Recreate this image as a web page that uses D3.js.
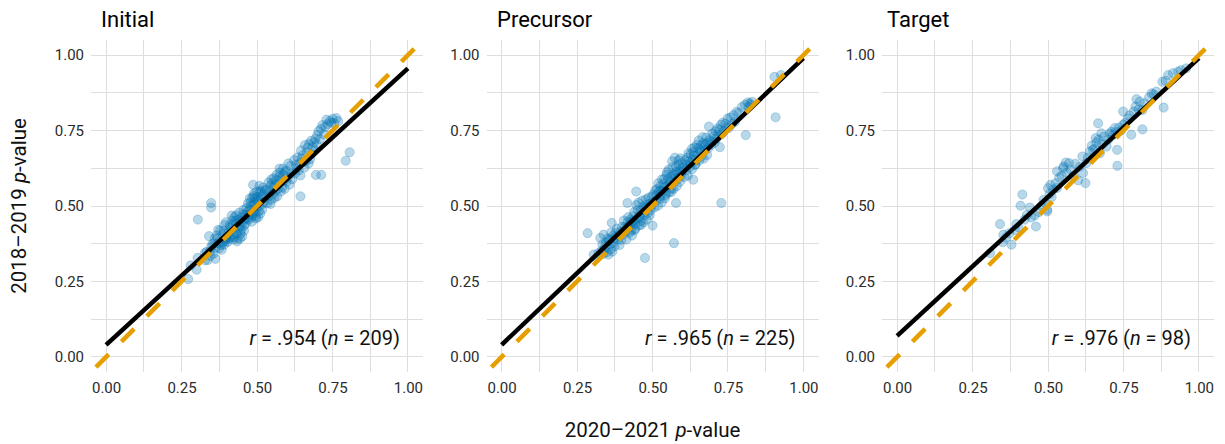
<!DOCTYPE html>
<html>
<head>
<meta charset="utf-8">
<script src="https://cdn.jsdelivr.net/npm/d3@7"></script>
<style>
  html, body { margin: 0; padding: 0; background: #fff; }
  svg { display: block; font-family: Roboto, "Liberation Sans", Arial, sans-serif; }
</style>
</head>
<body>
<svg id="chart" width="1225" height="444"></svg>
<script>
// ---------------- DATA ----------------
const panelTitles = ["Initial", "Precursor", "Target"];
const corrR = [".954", ".965", ".976"];
const corrN = ["209", "225", "98"];
const fitIntercept = [0.04, 0.04, 0.07];
const fitSlope = [0.916, 0.95, 0.92];
const tickValues = [0, 0.25, 0.5, 0.75, 1];
const tickLabels = ["0.00", "0.25", "0.50", "0.75", "1.00"];
const minorTicks = [0.125, 0.375, 0.625, 0.875];
const xAxisTitle = ["2020\u20132021 ", "p", "-value"];
const yAxisTitle = ["2018\u20132019 ", "p", "-value"];

const initialPoints = [
  [0.272,0.258],[0.280,0.303],[0.300,0.289],[0.303,0.328],[0.304,0.455],[0.328,0.320],[0.348,0.510],[0.348,0.495],
  [0.487,0.570],[0.807,0.678],[0.794,0.650],[0.695,0.603],[0.713,0.603],[0.644,0.532],
  [0.352,0.374],[0.337,0.321],[0.371,0.421],[0.344,0.349],[0.389,0.418],[0.362,0.325],[0.333,0.348],[0.378,0.419],
  [0.395,0.383],[0.358,0.376],[0.383,0.355],[0.366,0.402],[0.399,0.394],[0.341,0.400],[0.375,0.360],[0.392,0.437],
  [0.356,0.342],[0.386,0.379],[0.369,0.393],[0.348,0.364],[0.397,0.446],[0.381,0.371],[0.363,0.361],[0.394,0.389],
  [0.373,0.377],[0.387,0.406],[0.346,0.335],[0.360,0.392],[0.391,0.372],[0.327,0.344],
  [0.403,0.381],[0.418,0.452],[0.409,0.428],[0.436,0.392],[0.425,0.463],[0.412,0.397],[0.447,0.421],[0.430,0.441],
  [0.405,0.412],[0.441,0.478],[0.421,0.389],[0.452,0.446],[0.416,0.468],[0.433,0.410],[0.458,0.435],[0.427,0.424],
  [0.444,0.392],[0.410,0.437],[0.455,0.487],[0.438,0.455],[0.401,0.398],[0.423,0.405],[0.449,0.462],[0.414,0.418],
  [0.434,0.383],[0.457,0.418],[0.428,0.451],[0.445,0.431],[0.407,0.392],[0.439,0.426],[0.419,0.437],[0.451,0.399],
  [0.431,0.469],[0.460,0.455],[0.443,0.448],[0.424,0.396],[0.454,0.472],[0.446,0.410],
  [0.463,0.442],[0.478,0.512],[0.469,0.481],[0.495,0.466],[0.484,0.527],[0.472,0.455],[0.507,0.498],[0.490,0.541],
  [0.465,0.493],[0.501,0.519],[0.481,0.462],[0.512,0.551],[0.476,0.489],[0.493,0.478],[0.518,0.507],[0.487,0.503],
  [0.504,0.463],[0.470,0.509],[0.515,0.532],[0.498,0.495],[0.461,0.470],[0.483,0.448],[0.509,0.547],[0.474,0.472],
  [0.494,0.526],[0.517,0.488],[0.488,0.482],[0.505,0.514],[0.467,0.459],[0.499,0.548],[0.479,0.500],[0.511,0.475],
  [0.491,0.510],[0.520,0.561],[0.503,0.530],[0.484,0.469],[0.514,0.522],[0.506,0.483],[0.522,0.540],[0.497,0.459],
  [0.525,0.513],[0.476,0.525],[0.508,0.567],[0.527,0.552],[0.489,0.533],
  [0.532,0.553],[0.547,0.521],[0.538,0.578],[0.561,0.549],[0.543,0.566],[0.556,0.592],[0.534,0.509],[0.571,0.574],
  [0.552,0.538],[0.565,0.604],[0.541,0.546],[0.583,0.561],[0.559,0.570],[0.576,0.611],[0.548,0.589],[0.589,0.583],
  [0.567,0.532],[0.596,0.617],[0.537,0.533],[0.579,0.548],[0.554,0.561],[0.602,0.596],[0.573,0.596],[0.586,0.624],
  [0.545,0.507],[0.608,0.571],[0.563,0.585],[0.592,0.557],[0.581,0.591],[0.611,0.633],[0.550,0.575],[0.598,0.580],
  [0.569,0.556],[0.614,0.609],[0.587,0.605],[0.604,0.641],[0.558,0.527],[0.617,0.589],[0.593,0.612],[0.575,0.624],
  [0.623,0.652],[0.638,0.618],[0.629,0.637],[0.651,0.668],[0.644,0.601],[0.662,0.649],[0.634,0.661],[0.672,0.705],
  [0.657,0.627],[0.681,0.672],[0.646,0.684],[0.667,0.693],[0.626,0.608],[0.689,0.711],[0.654,0.646],[0.676,0.655],
  [0.641,0.640],[0.693,0.722],[0.664,0.677],[0.685,0.695],[0.631,0.625],[0.698,0.704],[0.659,0.702],[0.679,0.716],
  [0.648,0.657],[0.671,0.641],[0.691,0.683],[0.700,0.735],
  [0.704,0.748],[0.708,0.722],[0.712,0.756],[0.717,0.768],[0.722,0.737],[0.726,0.762],[0.730,0.786],[0.734,0.771],
  [0.741,0.782],[0.746,0.776],[0.751,0.789],[0.756,0.774],[0.763,0.791],[0.769,0.781]
];

const precursorPoints = [
  [0.285,0.410],[0.305,0.339],[0.321,0.344],[0.316,0.328],[0.475,0.328],[0.571,0.377],[0.446,0.548],[0.417,0.510],
  [0.578,0.510],[0.500,0.435],[0.908,0.794],[0.728,0.510],[0.904,0.928],[0.926,0.934],[0.635,0.587],[0.809,0.735],
  [0.327,0.394],[0.338,0.405],[0.354,0.339],[0.365,0.444],
  [0.331,0.352],[0.346,0.379],[0.337,0.341],[0.359,0.391],[0.343,0.366],[0.371,0.378],[0.334,0.373],[0.362,0.357],
  [0.378,0.412],[0.349,0.347],[0.385,0.389],[0.356,0.384],[0.369,0.401],[0.391,0.371],[0.340,0.355],[0.374,0.366],
  [0.382,0.425],[0.360,0.373],[0.394,0.414],[0.367,0.349],[0.388,0.403],[0.351,0.392],[0.397,0.388],[0.376,0.395],
  [0.363,0.412],[0.399,0.431],
  [0.402,0.405],[0.417,0.447],[0.408,0.431],[0.429,0.418],[0.413,0.389],[0.436,0.466],[0.421,0.432],[0.444,0.441],
  [0.405,0.452],[0.432,0.402],[0.451,0.487],[0.426,0.455],[0.441,0.420],[0.458,0.470],[0.411,0.416],[0.447,0.503],
  [0.434,0.437],[0.463,0.451],[0.419,0.463],[0.455,0.436],[0.439,0.480],[0.468,0.497],[0.424,0.411],[0.473,0.469],
  [0.449,0.458],[0.478,0.522],[0.431,0.449],[0.461,0.485],[0.484,0.476],[0.415,0.429],[0.470,0.446],[0.453,0.511],
  [0.489,0.507],[0.443,0.425],[0.476,0.492],[0.494,0.486],[0.466,0.518],[0.481,0.455],[0.498,0.531],[0.457,0.462],
  [0.487,0.528],[0.472,0.480],[0.496,0.499],[0.438,0.452],[0.483,0.496],[0.462,0.437],[0.491,0.470],[0.427,0.440],
  [0.479,0.505],[0.499,0.512],
  [0.503,0.538],[0.518,0.501],[0.509,0.552],[0.527,0.533],[0.512,0.519],[0.536,0.574],[0.521,0.548],[0.544,0.541],
  [0.506,0.495],[0.531,0.512],[0.551,0.589],[0.526,0.566],[0.541,0.526],[0.558,0.571],[0.514,0.537],[0.547,0.603],
  [0.534,0.549],[0.563,0.558],[0.519,0.575],[0.555,0.546],[0.539,0.590],[0.568,0.606],[0.524,0.523],[0.573,0.582],
  [0.549,0.567],[0.578,0.631],[0.531,0.588],[0.561,0.597],[0.584,0.589],[0.515,0.556],[0.570,0.557],[0.553,0.620],
  [0.589,0.617],[0.543,0.535],[0.576,0.603],[0.594,0.600],[0.566,0.629],[0.581,0.566],[0.598,0.642],[0.557,0.581],
  [0.587,0.637],[0.572,0.592],[0.596,0.611],[0.538,0.560],[0.583,0.608],[0.562,0.546],[0.591,0.580],[0.527,0.551],
  [0.579,0.614],[0.599,0.625],[0.565,0.648],[0.592,0.658],[0.548,0.612],[0.574,0.660],[0.586,0.651],
  [0.602,0.628],[0.617,0.601],[0.608,0.652],[0.627,0.643],[0.612,0.619],[0.636,0.679],[0.621,0.648],[0.644,0.651],
  [0.606,0.596],[0.631,0.622],[0.651,0.692],[0.626,0.672],[0.641,0.636],[0.658,0.679],[0.614,0.637],[0.647,0.703],
  [0.634,0.655],[0.663,0.664],[0.619,0.675],[0.655,0.651],[0.639,0.694],[0.668,0.708],[0.624,0.629],[0.673,0.685],
  [0.649,0.668],[0.678,0.727],[0.631,0.690],[0.661,0.701],[0.684,0.691],[0.615,0.660],[0.670,0.657],[0.653,0.717],
  [0.689,0.718],[0.643,0.638],[0.676,0.705],[0.694,0.702],[0.666,0.728],[0.681,0.669],[0.698,0.740],[0.657,0.685],
  [0.687,0.763],[0.672,0.694],[0.696,0.713],[0.638,0.667],[0.683,0.710],
  [0.702,0.731],[0.706,0.710],[0.709,0.748],[0.712,0.724],[0.715,0.757],[0.718,0.735],[0.721,0.752],[0.723,0.695],
  [0.727,0.769],[0.730,0.739],[0.733,0.776],[0.737,0.748],[0.741,0.772],[0.745,0.761],[0.749,0.790],[0.753,0.759],
  [0.758,0.793],[0.763,0.772],[0.768,0.801],[0.773,0.779],[0.779,0.812],[0.786,0.809],[0.796,0.828],[0.806,0.835],
  [0.815,0.843],[0.822,0.840],[0.830,0.845],[0.826,0.835],[0.818,0.828]
];

const targetPoints = [
  [0.308,0.344],[0.341,0.440],[0.352,0.405],[0.379,0.372],[0.350,0.380],[0.390,0.421],[0.409,0.501],[0.415,0.538],
  [0.440,0.495],[0.460,0.432],[0.456,0.469],[0.423,0.455],[0.497,0.488],[0.500,0.559],[0.508,0.570],[0.537,0.594],
  [0.552,0.631],[0.559,0.644],[0.570,0.642],[0.550,0.625],[0.600,0.585],[0.624,0.576],[0.616,0.609],[0.614,0.664],
  [0.627,0.642],[0.649,0.686],[0.658,0.725],[0.666,0.774],[0.677,0.741],[0.672,0.675],[0.694,0.697],[0.710,0.746],
  [0.721,0.758],[0.729,0.686],[0.730,0.633],[0.749,0.813],[0.749,0.769],[0.776,0.736],[0.784,0.813],[0.793,0.854],
  [0.804,0.846],[0.813,0.754],[0.813,0.818],[0.843,0.873],[0.859,0.879],[0.883,0.826],[0.879,0.912],[0.898,0.934],
  [0.914,0.940],[0.931,0.945],[0.958,0.956],[0.530,0.615],[0.498,0.482],
  [0.360,0.395],[0.372,0.410],[0.395,0.440],[0.402,0.430],[0.430,0.470],[0.445,0.462],[0.470,0.480],[0.478,0.500],
  [0.485,0.520],[0.490,0.510],[0.505,0.540],[0.512,0.530],[0.518,0.555],[0.525,0.575],[0.530,0.560],[0.545,0.600],
  [0.562,0.610],[0.575,0.620],[0.585,0.600],[0.590,0.640],[0.605,0.630],[0.632,0.660],[0.638,0.680],[0.645,0.700],
  [0.655,0.690],[0.660,0.710],[0.668,0.720],[0.680,0.705],[0.685,0.730],[0.700,0.720],[0.705,0.740],[0.715,0.735],
  [0.725,0.745],[0.735,0.760],[0.742,0.750],[0.755,0.775],[0.765,0.790],[0.770,0.800],[0.790,0.830],[0.800,0.820],
  [0.820,0.840],[0.835,0.860],[0.850,0.870],[0.890,0.915],[0.940,0.950]
];

const panelPoints = [initialPoints, precursorPoints, targetPoints];

// ---------------- LAYOUT ----------------
const panelLefts = [91, 486.5, 882];
const titleLefts = [101, 497, 887];
const panelW = 332, panelTop = 40, panelH = 332;
const domain = [-0.05, 1.05];

const svg = d3.select("#chart");
const defs = svg.append("defs");

panelTitles.forEach((title, i) => {
  const left = panelLefts[i];
  const x = d3.scaleLinear().domain(domain).range([left, left + panelW]);
  const y = d3.scaleLinear().domain(domain).range([panelTop + panelH, panelTop]);
  const g = svg.append("g");

  defs.append("clipPath").attr("id", "clip" + i)
    .append("rect").attr("x", left).attr("y", panelTop).attr("width", panelW).attr("height", panelH);

  // grid (minor + major)
  const grid = g.append("g").attr("stroke", "#dedede").attr("stroke-width", 1).attr("shape-rendering", "crispEdges");
  const all = tickValues.concat(minorTicks);
  grid.selectAll("line.v").data(all).join("line")
    .attr("x1", d => x(d)).attr("x2", d => x(d))
    .attr("y1", panelTop).attr("y2", panelTop + panelH);
  grid.selectAll("line.h").data(all).join("line")
    .attr("y1", d => y(d)).attr("y2", d => y(d))
    .attr("x1", left).attr("x2", left + panelW);

  // axes (labels only)
  const xAxis = d3.axisBottom(x).tickValues(tickValues).tickFormat((d, k) => tickLabels[k]).tickSize(0).tickPadding(0);
  const ax = g.append("g").attr("transform", `translate(0,${panelTop + panelH + 10})`).call(xAxis);
  ax.select(".domain").remove();
  ax.selectAll("text").attr("font-size", 15).attr("fill", "#2b2b2b").attr("font-family", "Roboto, 'Liberation Sans', sans-serif");

  const yAxis = d3.axisLeft(y).tickValues(tickValues).tickFormat((d, k) => tickLabels[k]).tickSize(0).tickPadding(7);
  const ay = g.append("g").attr("transform", `translate(${left},0)`).call(yAxis);
  ay.select(".domain").remove();
  ay.selectAll("text").attr("font-size", 15).attr("fill", "#2b2b2b").attr("font-family", "Roboto, 'Liberation Sans', sans-serif");

  const plot = g.append("g").attr("clip-path", `url(#clip${i})`);

  // points
  plot.selectAll("circle").data(panelPoints[i]).join("circle")
    .attr("cx", d => x(d[0])).attr("cy", d => y(d[1]))
    .attr("r", 4.6)
    .attr("fill", "#0072B2").attr("fill-opacity", 0.28)
    .attr("stroke", "#0072B2").attr("stroke-opacity", 0.28).attr("stroke-width", 0.9);

  // regression line
  const fit = [0, 1].map(v => [v, fitIntercept[i] + fitSlope[i] * v]);
  plot.append("path").datum(fit)
    .attr("d", d3.line().x(d => x(d[0])).y(d => y(d[1])))
    .attr("stroke", "#000").attr("stroke-width", 4.5).attr("fill", "none");

  // identity line
  const ident = [domain[0], domain[1]].map(v => [v, v]);
  plot.append("path").datum(ident)
    .attr("d", d3.line().x(d => x(d[0])).y(d => y(d[1])))
    .attr("stroke", "#E69F00").attr("stroke-width", 4.5).attr("fill", "none")
    .attr("stroke-dasharray", "18,18").attr("stroke-dashoffset", 29);

  // title
  g.append("text").attr("x", titleLefts[i]).attr("y", 27)
    .attr("font-size", 22).attr("fill", "#000").text(title);

  // annotation
  const ann = g.append("text").attr("x", left + 309).attr("y", 345)
    .attr("text-anchor", "end").attr("font-size", 20).attr("fill", "#111");
  ann.append("tspan").attr("font-style", "italic").text("r");
  ann.append("tspan").text(" = " + corrR[i] + " (");
  ann.append("tspan").attr("font-style", "italic").text("n");
  ann.append("tspan").text(" = " + corrN[i] + ")");
});

// axis titles
const xt = svg.append("text").attr("x", panelLefts[1] + panelW / 2).attr("y", 437)
  .attr("text-anchor", "middle").attr("font-size", 20.5).attr("fill", "#111");
xAxisTitle.forEach((s, k) => xt.append("tspan").attr("font-style", k === 1 ? "italic" : null).text(s));

const yt = svg.append("text").attr("transform", `translate(26,${panelTop + panelH / 2}) rotate(-90)`)
  .attr("text-anchor", "middle").attr("font-size", 20.5).attr("fill", "#111");
yAxisTitle.forEach((s, k) => yt.append("tspan").attr("font-style", k === 1 ? "italic" : null).text(s));
</script>
</body>
</html>
